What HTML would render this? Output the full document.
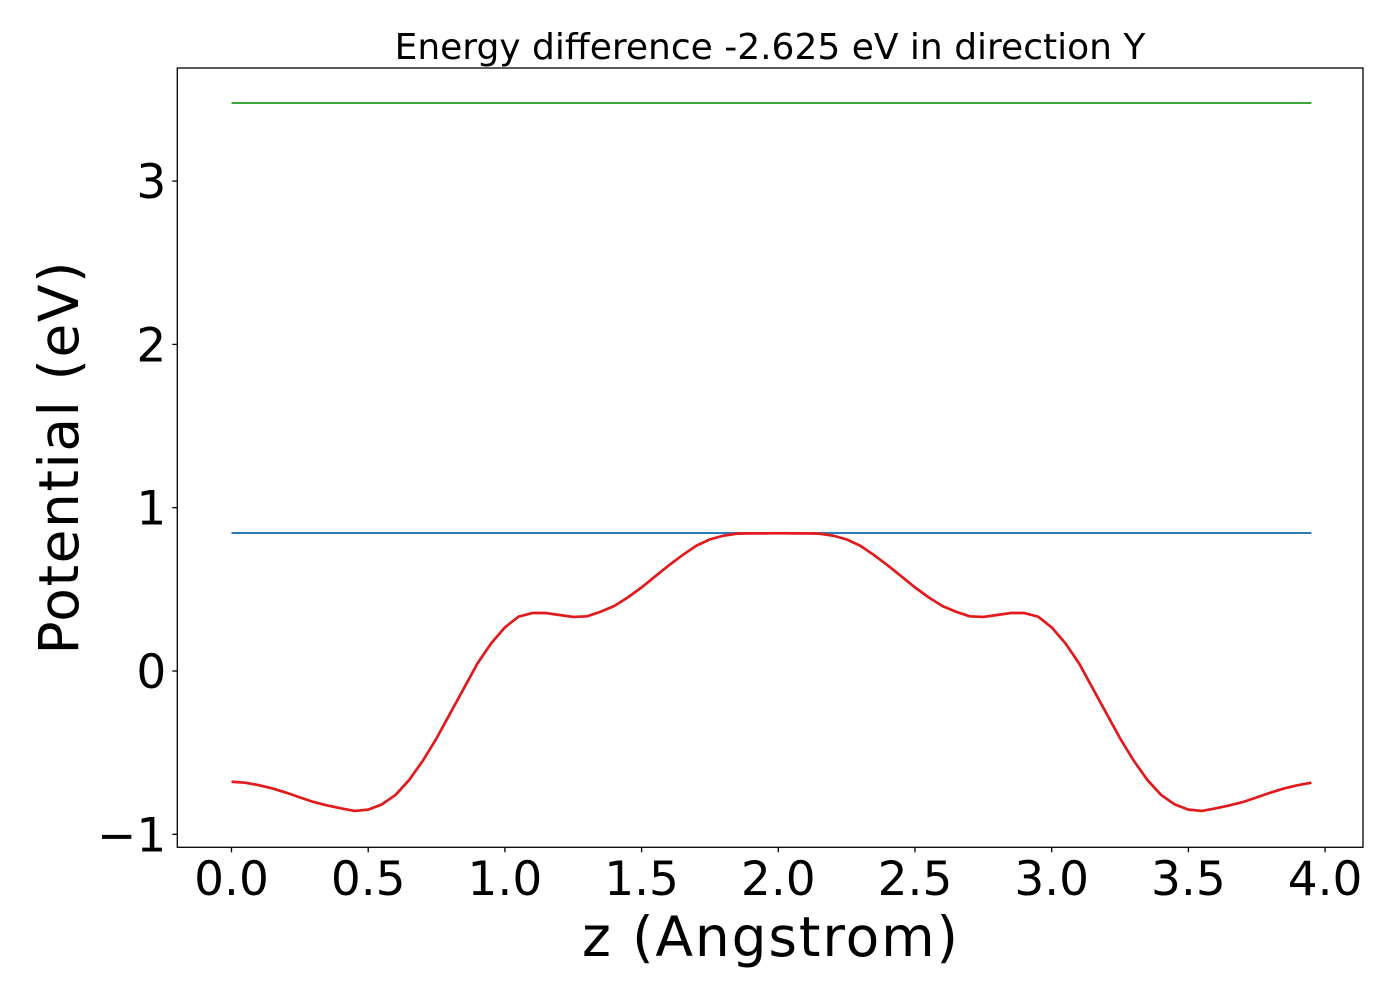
<!DOCTYPE html>
<html><head><meta charset="utf-8"><style>
html,body{margin:0;padding:0;background:#fff;}
svg{display:block;font-family:"DejaVu Sans","Liberation Sans",sans-serif;}
</style></head><body>
<svg id="chart" width="1400" height="1000" viewBox="0 0 1400 1000">
<rect x="0" y="0" width="1400" height="1000" fill="#fff"/>
<g id="plot"></g>
<text x="770" y="59" font-size="36" text-anchor="middle">Energy difference -2.625 eV in direction Y</text>
<text x="770" y="956" font-size="55" text-anchor="middle" textLength="376">z (Angstrom)</text>
<text transform="translate(78,458) rotate(-90)" font-size="55" text-anchor="middle" textLength="393">Potential (eV)</text>
</svg>
<script>
const halfValues = [-0.678,-0.684,-0.699,-0.719,-0.745,-0.774,-0.802,-0.823,-0.841,-0.857,
-0.849,-0.817,-0.759,-0.667,-0.549,-0.412,-0.259,-0.106,0.047,0.170,
0.267,0.333,0.355,0.355,0.343,0.331,0.335,0.363,0.398,0.451,
0.512,0.580,0.647,0.710,0.767,0.806,0.829,0.841,0.843,0.843];
const centerValue = 0.844;
const potentialValues = halfValues.concat([centerValue], halfValues.slice(1).reverse());
const zStep = 0.05;
const blueLevel = 0.845;
const greenLevel = 3.478;
const xTicks = [0.0,0.5,1.0,1.5,2.0,2.5,3.0,3.5,4.0];
const xTickLabels = ["0.0","0.5","1.0","1.5","2.0","2.5","3.0","3.5","4.0"];
const yTicks = [-1,0,1,2,3];
const yTickLabels = ["\u22121","0","1","2","3"];

const NS="http://www.w3.org/2000/svg";
const L=177.3,R=1363,T=68,B=847.3;
const xs=v=>231.5+v*273.4;
const ys=v=>671-v*163.3;
const g=document.getElementById('plot');
function mk(t,a){const e=document.createElementNS(NS,t);for(const k in a)e.setAttribute(k,a[k]);g.appendChild(e);return e;}
const zMax=(potentialValues.length-1)*zStep;
let e=mk('line',{x1:xs(0),x2:xs(zMax),y1:ys(greenLevel),y2:ys(greenLevel),stroke:'#3aa63a','stroke-width':2});


e=mk('line',{x1:xs(0),x2:xs(zMax),y1:ys(blueLevel),y2:ys(blueLevel),stroke:'#2a7bbd','stroke-width':2});


const pts=potentialValues.map((v,i)=>xs(i*zStep).toFixed(2)+','+ys(v).toFixed(2)).join(' ');
e=mk('polyline',{points:pts,fill:'none',stroke:'#e31a1c','stroke-width':2.7,'stroke-linejoin':'round'});


e=mk('rect',{x:L,y:T,width:R-L,height:B-T,fill:'none',stroke:'#000','stroke-width':1.3});


xTicks.forEach((t,i)=>{
  const x=xs(t);
  let l=mk('line',{x1:x,x2:x,y1:B,y2:B+5,stroke:'#000','stroke-width':1.3});
  
  
  let tx=mk('text',{x:x,y:895,'font-size':47,'text-anchor':'middle'});
  tx.textContent=xTickLabels[i];
  
  
});
yTicks.forEach((t,i)=>{
  const y=ys(t);
  let l=mk('line',{x1:L-5,x2:L,y1:y,y2:y,stroke:'#000','stroke-width':1.3});
  
  
  let tx=mk('text',{x:L-11,y:y+17,'font-size':47,'text-anchor':'end'});
  tx.textContent=yTickLabels[i];
  
  
});
</script>
</body></html>
